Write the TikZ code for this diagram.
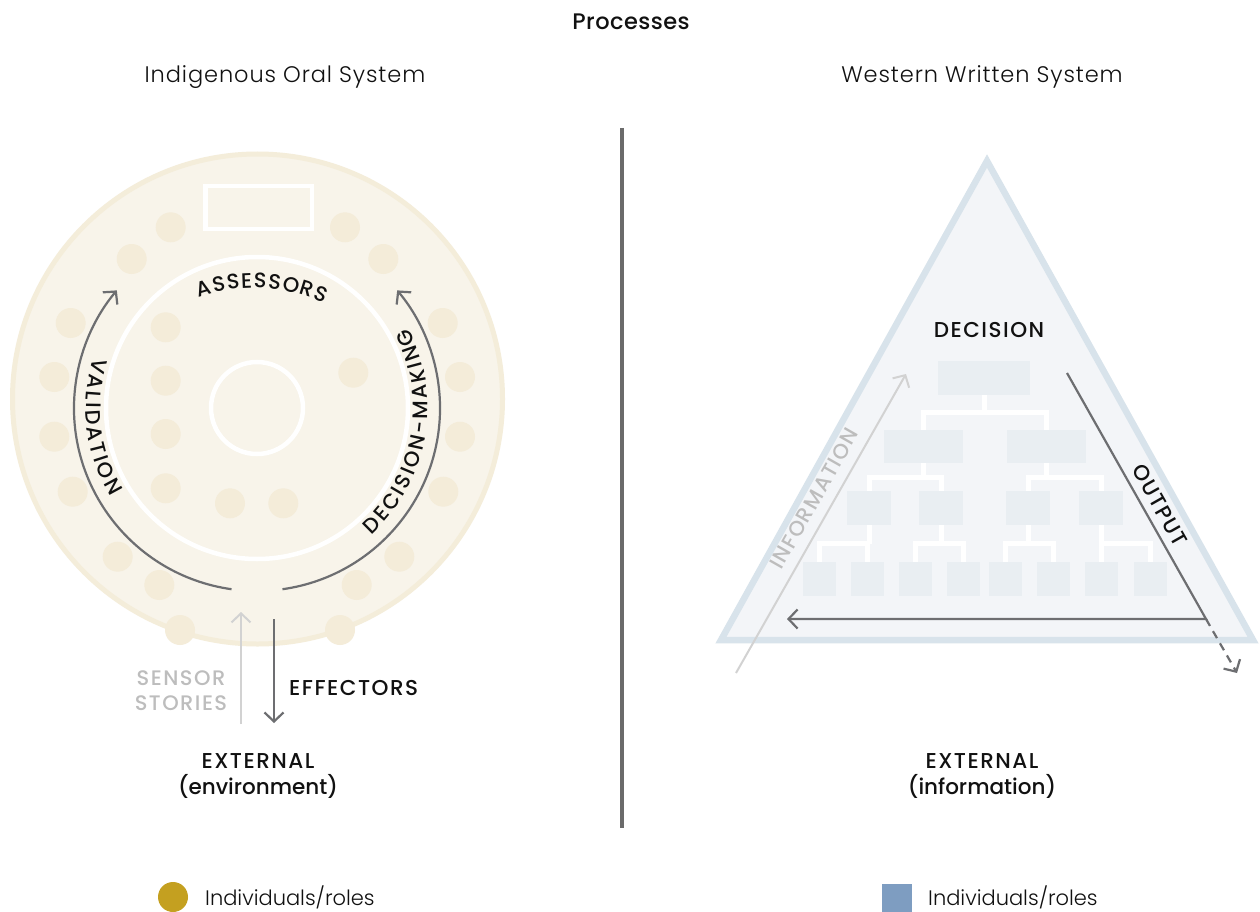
\documentclass[tikz,border=0pt]{standalone}
\usepackage{fontspec}
\setmainfont{Poppins}
\newfontfamily\popmed{Poppins Medium}
\newfontfamily\popcaps{Poppins Medium}[LetterSpace=7]
\newfontfamily\poptitle{Poppins Medium}[LetterSpace=2]
\newfontfamily\poplight{Poppins Light}
\newfontfamily\popheads{Poppins Light}[LetterSpace=4]
\usetikzlibrary{arrows.meta,calc}
\definecolor{cream}{HTML}{F8F4EA}
\definecolor{creamring}{HTML}{F4EDDA}
\definecolor{dotc}{HTML}{F4ECD9}
\definecolor{arrgray}{HTML}{6D6E71}
\definecolor{lightarr}{HTML}{D2D2D2}
\definecolor{lighttxt}{HTML}{BDBDBD}
\definecolor{trifill}{HTML}{F3F5F8}
\definecolor{triborder}{HTML}{D8E3EB}
\definecolor{boxc}{HTML}{E9EEF2}
\definecolor{gold}{HTML}{C4A020}
\definecolor{legblue}{HTML}{7E9DC1}
\definecolor{divider}{HTML}{6B6B6B}
\definecolor{ink}{HTML}{111111}
% #1 centre, #2 radius, #3 centre angle, #4 direction, #5 extra spacing, #6 name prefix, #7 letters
\newcommand\curvedlabel[7]{%
  \begingroup
  \popmed\fontsize{21}{25}\selectfont
  \xdef\cltot{0}%
  \foreach \ch in {#7}{%
    \pgfmathsetmacro\clw{width("\ch")}%
    \pgfmathsetmacro\cltmp{\cltot+\clw+#5}%
    \xdef\cltot{\cltmp}}%
  \xdef\clpos{0}%
  \foreach \ch [count=\k] in {#7}{%
    \pgfmathsetmacro\clw{width("\ch")}%
    \pgfmathsetmacro\clang{#3+#4*(\clpos+\clw/2-(\cltot-#5)/2)/#2*57.29578}%
    \pgfmathsetmacro\clrot{#4>0 ? -1*(\clang)-90 : 90-(\clang)}%
    \node[arcchar,rotate=\clrot,anchor=base] (#6\k) at ([shift={(\clang:#2)}]#1) {\ch};%
    \pgfmathsetmacro\cltmp{\clpos+\clw+#5}%
    \xdef\clpos{\cltmp}}%
  \endgroup}
\begin{document}
\begin{tikzpicture}[x=1pt,y=-1pt,
  dot/.style={circle,fill=dotc,inner sep=0pt,minimum size=30pt},
  whiteline/.style={draw=white,line width=4.5pt},
  box/.style={fill=boxc,inner sep=0pt},
  conn/.style={draw=white,line width=5pt},
  barb/.style={-{Straight Barb[length=9pt,width=19pt]}},
  darrow/.style={draw=arrgray,line width=2.2pt,barb},
  larrow/.style={draw=lightarr,line width=2pt,barb},
  caps/.style={font=\popcaps\fontsize{21.5}{26}\selectfont,text=ink,inner sep=0pt},
  head/.style={font=\popheads\fontsize{22.5}{27}\selectfont,text=ink,inner sep=0pt},
  legend/.style={font=\poplight\fontsize{21}{25}\selectfont,text=ink,inner sep=0pt,anchor=base west},
  arcchar/.style={font=\popmed\fontsize{21}{25}\selectfont,text=ink,inner sep=0pt}
]
\useasboundingbox (0,0) rectangle (1260,912);
\fill[white] (0,0) rectangle (1260,912);

% ---------- titles
\node[font=\poptitle\fontsize{22.5}{27}\selectfont,text=ink,inner sep=0pt,anchor=base] (title) at (631,30) {Processes};
\node[head,anchor=base] (lefthead) at (285,83) {Indigenous Oral System};
\node[head,anchor=base] (righthead) at (982,83) {Western Written System};

% ---------- divider
\coordinate (dtop) at (622,128);
\coordinate (dbot) at (622,828);
\draw[divider,line width=4pt] (dtop) -- (dbot);

% ---------- left: circle
\coordinate (C) at (257,408);
\node[circle,fill=cream,draw=creamring,line width=5pt,minimum size=490pt,inner sep=0pt] (outer) at (257.5,399) {};
\foreach \i/\x/\y in {1/170.7/227.3,2/345/227.3,3/131.7/259,4/383.3/259,5/70.7/323,6/442.7/323,
  7/54.3/377,8/460/377,9/54.3/436.7,10/460/436.7,11/72.7/491.7,12/443.3/491.7,13/117.7/556.7,
  14/399.3/556.7,15/159.3/585,16/356.7/585,17/180/630,18/340/630,
  19/165.7/327.3,20/165.7/380.7,21/165.7/434,22/165.7/488.3,23/230/503.3,24/283.3/503.3,25/353.3/372.7}
  \node[dot] (d\i) at (\x,\y) {};
\node[circle,whiteline,minimum size=302pt,inner sep=0pt] (ring) at (C) {};
\node[circle,whiteline,minimum size=92pt,inner sep=0pt] (hub) at (C) {};
\node[whiteline,minimum width=106.5pt,minimum height=42.5pt,inner sep=0pt] (seat) at (258.5,207.5) {};

% arc arrows
\draw[darrow] ([shift={(98:183)}]C) arc[start angle=98,end angle=220,radius=183];
\draw[darrow] ([shift={(82:183)}]C) arc[start angle=82,end angle=-40,radius=183];

% arc labels
\curvedlabel{C}{171}{173}{(-1)}{2.4}{val}{V,A,L,I,D,A,T,I,O,N}
\curvedlabel{C}{171}{10}{(-1)}{2.4}{dm}{D,E,C,I,S,I,O,N,-,M,A,K,I,N,G}
\coordinate (A) at (254,460);
\curvedlabel{A}{172}{-87.3}{1}{1.3}{as}{A,S,S,E,S,S,O,R,S}

% sensor / effector
\coordinate (s1) at (241,724);
\coordinate (s2) at (241,612);
\coordinate (e1) at (274,619);
\coordinate (e2) at (274,723);
\draw[larrow] (s1) -- (s2);
\draw[darrow] (e1) -- (e2);
\node[font=\popcaps\fontsize{21}{25}\selectfont,text=lighttxt,align=center,inner sep=0pt] (sensor) at (181,691) {SENSOR\\STORIES};
\node[caps,anchor=west] (effectors) at (289,688.5) {EFFECTORS};
\node[caps,align=center] (extL) at (258,776) {EXTERNAL\\{\popmed(environment)}};

% ---------- right: triangle
\coordinate (tA) at (987,161);
\coordinate (tB) at (1253,640);
\coordinate (tC) at (721,640);
\filldraw[fill=trifill,draw=triborder,line width=6.5pt,line join=miter] (tA) -- (tB) -- (tC) -- cycle;

\node[box,minimum width=92pt,minimum height=34pt] (t) at (984,378) {};
\node[box,minimum width=79pt,minimum height=33pt] (ma) at (923.3,446.5) {};
\node[box,minimum width=79pt,minimum height=33pt] (mb) at (1046.5,446.5) {};
\foreach \n/\x in {a/869,b/941,c/1028,d/1101}
  \node[box,minimum width=43.5pt,minimum height=34pt] (s\n) at (\x,508) {};
\foreach \n/\x in {1/819.7,2/867.5,3/915.5,4/963.5,5/1005.5,6/1053.5,7/1101.5,8/1150.5}
  \node[box,minimum width=33pt,minimum height=34pt] (b\n) at (\x,579) {};

\draw[conn] (t.south) -- ++(0,17.5) coordinate (j0);
\draw[conn] (ma.north) |- (j0) -| (mb.north);
\draw[conn] (ma.south) -- ++(0,14) coordinate (ja);
\draw[conn] (sa.north) |- (ja) -| (sb.north);
\draw[conn] (mb.south) -- ++(0,14) coordinate (jb);
\draw[conn] (sc.north) |- (jb) -| (sd.north);
\draw[conn] (sa.south) -- ++(0,18.5) coordinate (ka);
\draw[conn] (b1.north) |- (ka) -| (b2.north);
\draw[conn] (sb.south) -- ++(0,18.5) coordinate (kb);
\draw[conn] (b3.north) |- (kb) -| (b4.north);
\draw[conn] (sc.south) -- ++(0,18.5) coordinate (kc);
\draw[conn] (b5.north) |- (kc) -| (b6.north);
\draw[conn] (sd.south) -- ++(0,18.5) coordinate (kd);
\draw[conn] (b7.north) |- (kd) -| (b8.north);

\node[caps] (decision) at (989,330) {DECISION};

% information / output arrows
\coordinate (i1) at (736,673);
\coordinate (i2) at (906,374);
\draw[larrow] (i1) -- (i2);
\node[font=\popcaps\fontsize{21}{25}\selectfont,text=lighttxt,inner sep=0pt,rotate=60.4] (info) at (814,498.5) {INFORMATION};

\coordinate (o1) at (1067,373);
\coordinate (o2) at (1206,619);
\coordinate (o3) at (787,619);
\coordinate (o4) at (1237,673);
\draw[darrow,line join=miter] (o1) -- (o2) -- (o3);
\draw[darrow,dash pattern=on 8pt off 6pt] (o2) -- (o4);
\node[caps,rotate=-60.5] (output) at (1160,505) {OUTPUT};

\node[caps,align=center] (extR) at (982,776) {EXTERNAL\\{\popmed(information)}};

% ---------- legends
\node[circle,fill=gold,minimum size=30pt,inner sep=0pt] (legdot) at (173,897) {};
\node[legend] (legLtxt) at (205,905) {Individuals/roles};
\node[fill=legblue,minimum width=30pt,minimum height=30pt,inner sep=0pt] (legsq) at (897,899) {};
\node[legend] (legRtxt) at (928,905) {Individuals/roles};
\end{tikzpicture}
\end{document}
